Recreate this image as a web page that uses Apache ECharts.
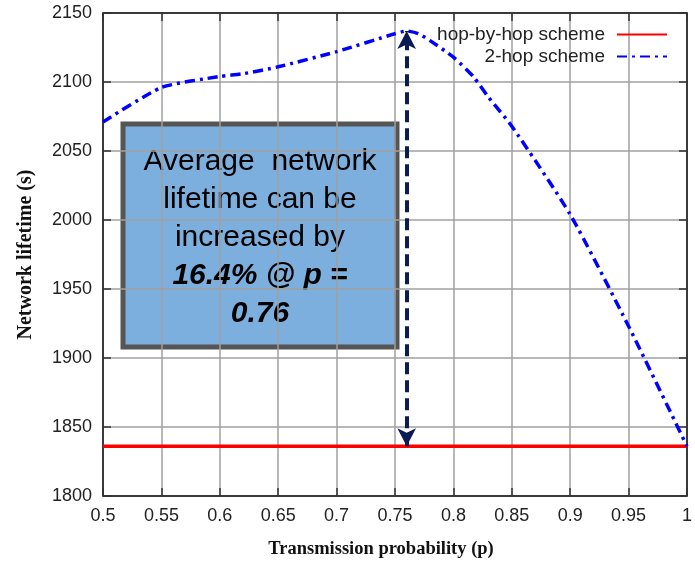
<!DOCTYPE html>
<html>
<head>
<meta charset="utf-8">
<script src="https://cdn.jsdelivr.net/npm/echarts@6/dist/echarts.min.js"></script>
<style>
  html, body { margin: 0; padding: 0; background: #fff; }
  #chart { width: 695px; height: 566px; }
</style>
</head>
<body>
<div id="chart"></div>
<script>
// Transmission probability p (x) and network lifetime in seconds (y)
const pValues = [0.5, 0.55, 0.6, 0.62, 0.65, 0.7, 0.75, 0.76, 0.77, 0.78, 0.8, 0.817, 0.83, 0.85, 0.9, 0.95, 1.0];
const twoHopLifetime = [2071, 2096, 2104, 2106, 2111, 2122, 2135, 2137, 2135, 2130, 2118, 2104, 2089, 2068, 2004, 1923, 1836];
const hopByHopP = [0.5, 1.0];
const hopByHopLifetime = [1836, 1836];
const peakP = 0.76;
const peakLifetime = 2137;
const seriesNames = ['hop-by-hop scheme', '2-hop scheme'];
const xTicks = { min: 0.5, max: 1, step: 0.05 };
const yTicks = { min: 1800, max: 2150, step: 50 };

const sans = "'Liberation Sans', Arial, sans-serif";
const serif = "'Liberation Serif', 'Times New Roman', serif";

const chart = echarts.init(document.getElementById('chart'), null, { renderer: 'canvas' });

// Top and right axes only close the frame and carry inward ticks
const frameAxis = {
  axisLine: { show: true, lineStyle: { color: '#111', width: 1.5 } },
  axisTick: { show: true, inside: true, length: 8, lineStyle: { color: '#333', width: 1.5 } },
  axisLabel: { show: false },
  splitLine: { show: false }
};

chart.setOption({
  backgroundColor: '#fff',
  animation: false,
  grid: { left: 103, right: 3, top: 13, bottom: 70, containLabel: false },
  legend: {
    data: seriesNames,
    orient: 'vertical',
    align: 'right',
    right: 22,
    top: 20,
    itemWidth: 50,
    itemHeight: 10,
    itemGap: 3,
    itemStyle: { opacity: 0 },
    textStyle: { fontFamily: sans, fontSize: 19, lineHeight: 19, color: '#222', padding: [0, 7, 0, 0] }
  },
  xAxis: [
    {
      type: 'value', position: 'bottom',
      min: xTicks.min, max: xTicks.max, interval: xTicks.step,
      name: 'Transmission probability (p)',
      nameLocation: 'middle', nameGap: 44,
      nameTextStyle: { fontFamily: serif, fontWeight: 'bold', fontSize: 18.5, color: '#111', padding: [0, 28, 0, 0] },
      axisLine: { show: true, lineStyle: { color: '#111', width: 1.5 } },
      axisTick: { show: true, inside: true, length: 8, lineStyle: { color: '#333', width: 1.5 } },
      axisLabel: {
        fontFamily: sans, fontSize: 18, color: '#222', margin: 11,
        formatter: v => String(+v.toFixed(2))
      },
      splitLine: { show: true, lineStyle: { color: '#a0a0a0', width: 1.5 } }
    },
    Object.assign({ type: 'value', position: 'top', min: xTicks.min, max: xTicks.max, interval: xTicks.step }, frameAxis)
  ],
  yAxis: [
    {
      type: 'value', position: 'left',
      min: yTicks.min, max: yTicks.max, interval: yTicks.step,
      name: 'Network lifetime (s)',
      nameLocation: 'middle', nameGap: 67, nameRotate: 90,
      nameTextStyle: { fontFamily: serif, fontWeight: 'bold', fontSize: 20, color: '#111' },
      axisLine: { show: true, lineStyle: { color: '#111', width: 1.5 } },
      axisTick: { show: true, inside: true, length: 8, lineStyle: { color: '#333', width: 1.5 } },
      axisLabel: { fontFamily: sans, fontSize: 18, color: '#222', margin: 11, formatter: v => String(v) },
      splitLine: { show: true, lineStyle: { color: '#a0a0a0', width: 1.5 } }
    },
    Object.assign({ type: 'value', position: 'right', min: yTicks.min, max: yTicks.max, interval: yTicks.step }, frameAxis)
  ],
  series: [
    {
      name: seriesNames[0],
      type: 'line',
      xAxisIndex: 0, yAxisIndex: 0,
      data: hopByHopP.map((p, i) => [p, hopByHopLifetime[i]]),
      symbol: 'none',
      lineStyle: { color: '#ff0000', width: 3.5 },
      itemStyle: { color: '#ff0000' },
      z: 3
    },
    {
      name: seriesNames[1],
      type: 'line',
      xAxisIndex: 0, yAxisIndex: 0,
      data: pValues.map((p, i) => [p, twoHopLifetime[i]]),
      symbol: 'none',
      smooth: 0.2,
      lineStyle: { color: '#0000ff', width: 3.5, type: [10, 5, 3, 5] },
      itemStyle: { color: '#0000ff' },
      z: 4,
      // double-headed arrow from the hop-by-hop level up to the 2-hop peak
      markLine: {
        silent: true,
        symbol: ['arrow', 'arrow'],
        symbolSize: [14, 18],
        label: { show: false },
        lineStyle: { color: '#0c1c52', width: 4, type: [12, 6] },
        data: [[
          { coord: [peakP, hopByHopLifetime[0]] },
          { coord: [peakP, peakLifetime] }
        ]]
      }
    }
  ],
  graphic: [
    {
      type: 'group',
      z: 100,
      children: [
        {
          type: 'rect',
          shape: { x: 123, y: 124, width: 274, height: 223 },
          style: { fill: 'rgba(91,155,213,0.8)', stroke: '#555555', lineWidth: 5 }
        },
        {
          type: 'text',
          x: 260, y: 238,
          style: {
            text: 'Average  network\nlifetime can be\nincreased by\n{b|16.4% @ p =}\n{b|0.76}',
            align: 'center',
            verticalAlign: 'middle',
            fontFamily: sans,
            fontSize: 30,
            lineHeight: 38,
            fill: '#000',
            rich: {
              b: { fontFamily: sans, fontSize: 30, lineHeight: 38, fontWeight: 'bold', fontStyle: 'italic', fill: '#000' }
            }
          }
        }
      ]
    }
  ]
});
</script>
</body>
</html>
